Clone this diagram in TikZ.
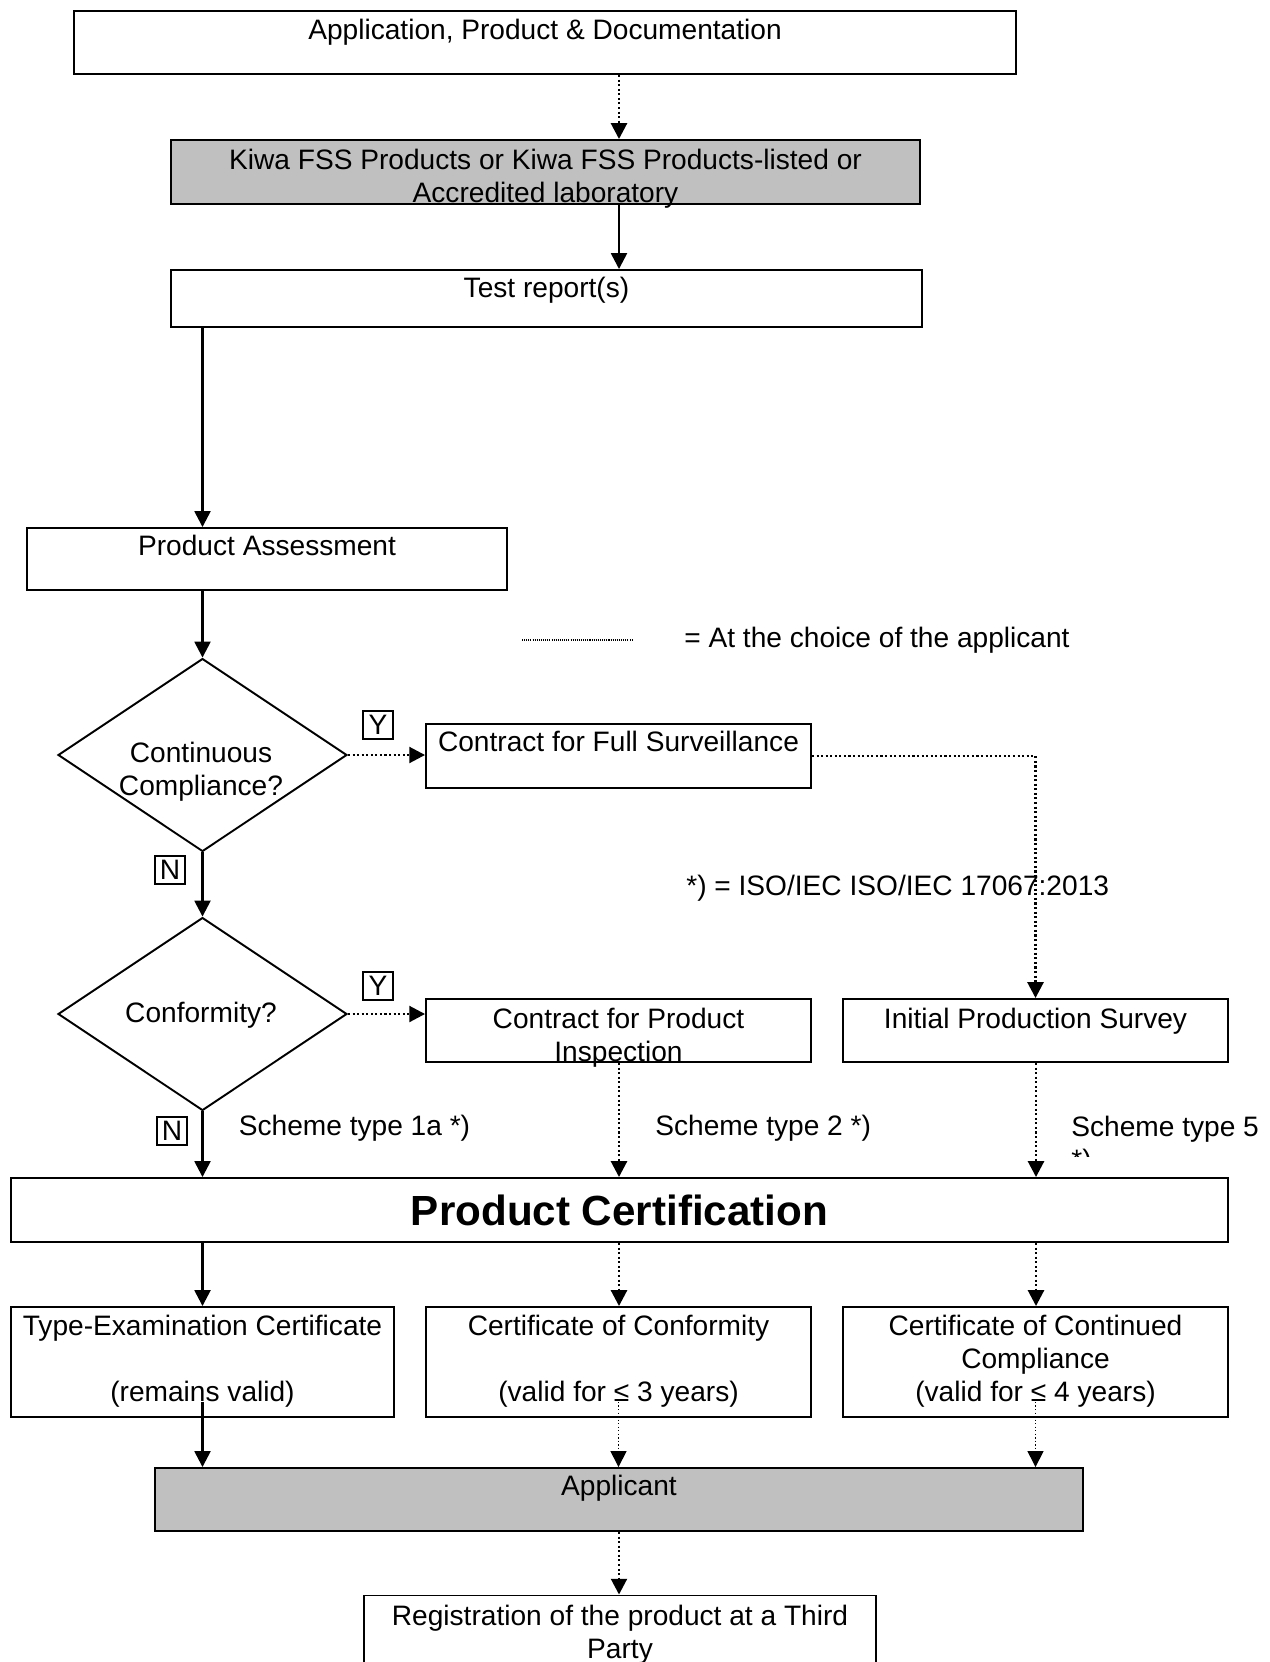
\documentclass[tikz,border=0pt]{standalone}
\usepackage{fontspec}
\setmainfont{Liberation Sans}
\usetikzlibrary{arrows.meta,positioning,shapes.geometric}
\definecolor{kiwagray}{RGB}{192,192,192}

\begin{document}
\begin{tikzpicture}[x=0.02cm, y=-0.02cm,
        font=\fontsize{16}{18.7}\selectfont,
        box/.style={draw, line width=1.1pt, inner sep=0pt},
        txt/.style={anchor=north, inner sep=0pt, align=center, execute at begin node=\strut},
        lbl/.style={anchor=north west, inner sep=0pt, execute at begin node=\strut},
        yn/.style={draw, line width=0.8pt, inner sep=0pt, minimum width=0.6cm, minimum height=0.56cm},
        flow/.style={draw, line width=1.4pt, -{Triangle[length=9pt,width=9pt]}},
        choice/.style={flow, line width=1.6pt, dash pattern=on 1.2pt off 1.4pt},
        thinchoice/.style={flow, line width=0.8pt, dash pattern=on 0.8pt off 1.2pt}]
        \useasboundingbox (0,0) rectangle (1270,1662);
        \coordinate (colA) at (202.5,0);
        \coordinate (colB) at (619,0);
        \coordinate (colC) at (1036,0);
        \node (app) at (545,42.5) [box, minimum width=18.84cm, minimum height=1.26cm] {};
        \node (kiwa) at (545.5,172) [box, fill=kiwagray, minimum width=14.98cm, minimum height=1.28cm] {};
        \node (report) at (546.5,298.5) [box, minimum width=15.02cm, minimum height=1.14cm] {};
        \node (assess) at (267,559) [box, minimum width=9.6cm, minimum height=1.24cm] {};
        \node (cc) at (202.5,755) [box, diamond, minimum width=5.78cm, minimum height=3.86cm] {};
        \node (fullsurv) at (618.5,756) [box, minimum width=7.7cm, minimum height=1.28cm] {};
        \node (conf) at (202.5,1014) [box, diamond, minimum width=5.78cm, minimum height=3.86cm] {};
        \node (inspect) at (618.5,1030.5) [box, minimum width=7.7cm, minimum height=1.26cm] {};
        \node (survey) at (1035.5,1030.5) [box, minimum width=7.7cm, minimum height=1.26cm] {};
        \node (cert) at (619.5,1210) [box, minimum width=24.34cm, minimum height=1.28cm, font=\fontsize{24}{28}\selectfont\bfseries] {Product Certification};
        \node (tec) at (202.5,1362) [box, minimum width=7.66cm, minimum height=2.2cm] {};
        \node (coc) at (618.5,1362) [box, minimum width=7.7cm, minimum height=2.2cm] {};
        \node (cocc) at (1035.5,1362) [box, minimum width=7.7cm, minimum height=2.2cm] {};
        \node (applicant) at (619,1499.5) [box, fill=kiwagray, minimum width=18.56cm, minimum height=1.26cm] {};
        \node (reg) at (620,1648) [box, minimum width=10.24cm, minimum height=2.1cm] {};
        \node (appT) at ([yshift=-0.12cm]app.north) [txt] {Application, Product \& Documentation};
        \node (kiwaT) at ([yshift=-0.2cm]kiwa.north) [txt] {Kiwa FSS Products or Kiwa FSS Products-listed or\\Accredited laboratory};
        \node (reportT) at ([yshift=-0.1cm]report.north) [txt] {Test report(s)};
        \node (assessT) at ([yshift=-0.1cm]assess.north) [txt] {Product Assessment};
        \node (ccT) at (201,742) [txt] {Continuous\\Compliance?};
        \node (fullsurvT) at ([yshift=-0.11cm]fullsurv.north) [txt] {Contract for Full Surveillance};
        \node (confT) at (201,999) [txt] {Conformity?};
        \node (inspectT) at ([yshift=-0.2cm]inspect.north) [txt] {Contract for Product\\Inspection};
        \node (surveyT) at ([yshift=-0.14cm]survey.north) [txt] {Initial Production Survey};
        \node (tecT) at ([yshift=-0.18cm]tec.north) [txt] {Type-Examination Certificate\\[18.7pt](remains valid)};
        \node (cocT) at ([yshift=-0.18cm]coc.north) [txt] {Certificate of Conformity\\[18.7pt](valid for ≤ 3 years)};
        \node (coccT) at ([yshift=-0.18cm]cocc.north) [txt] {Certificate of Continued\\Compliance\\(valid for ≤ 4 years)};
        \node (applicantT) at ([yshift=-0.1cm]applicant.north) [txt] {Applicant};
        \node (regT) at ([yshift=-0.2cm]reg.north) [txt] {Registration of the product at a Third\\Party};
        \node (y1) at (378,725) [yn] {Y};
        \node (n1) at (170,870) [yn] {N};
        \node (y2) at (378,986) [yn] {Y};
        \node (n2) at (172,1131) [yn] {N};
        \node (legT) at (684,624) [lbl] {= At the choice of the applicant};
        \node (iso) at (686,872) [lbl] {*) = ISO/IEC ISO/IEC 17067:2013};
        \node (s1a) at (238.5,1112) [lbl] {Scheme type 1a *)};
        \node (s2) at (655,1112) [lbl] {Scheme type 2 *)};
        \begin{scope}
            \clip (1060,1100) rectangle (1270,1156);
            \node (s5) at (1071,1116) [lbl, align=left] {Scheme type 5\\*)};
        \end{scope}
        \coordinate (legA) at (522,640);
        \coordinate (legB) at (633,640);
        \path [draw, line width=0.6pt, dash pattern=on 0.6pt off 0.6pt] (legA) -- (legB);
        \path [choice] (app.south -| colB) -- (kiwa.north -| colB);
        \path [flow] (kiwa.south -| colB) -- (report.north -| colB);
        \path [flow] (report.south -| colA) -- (assess.north -| colA);
        \path [flow] (assess.south -| colA) -- (cc.north);
        \path [choice] (cc.east) -- (cc.east -| fullsurv.west);
        \path [choice] (fullsurv.east) -| (survey.north);
        \path [flow] (cc.south) -- (conf.north);
        \path [choice] (conf.east) -- (conf.east -| inspect.west);
        \path [flow] (conf.south) -- (conf.south |- cert.north);
        \path [choice] (inspect.south -| colB) -- (cert.north -| colB);
        \path [choice] (survey.south -| colC) -- (cert.north -| colC);
        \path [flow] (cert.south -| colA) -- (tec.north -| colA);
        \path [choice] (cert.south -| colB) -- (coc.north -| colB);
        \path [choice] (cert.south -| colC) -- (cocc.north -| colC);
        \path [flow] ([yshift=0.32cm]tec.south) -- (applicant.north -| tec.south);
        \path [thinchoice] ([yshift=0.32cm]coc.south) -- (applicant.north -| coc.south);
        \path [thinchoice] ([yshift=0.32cm]cocc.south) -- (applicant.north -| cocc.south);
        \path [choice] (applicant.south -| colB) -- (reg.north -| colB);
\end{tikzpicture}
\end{document}
